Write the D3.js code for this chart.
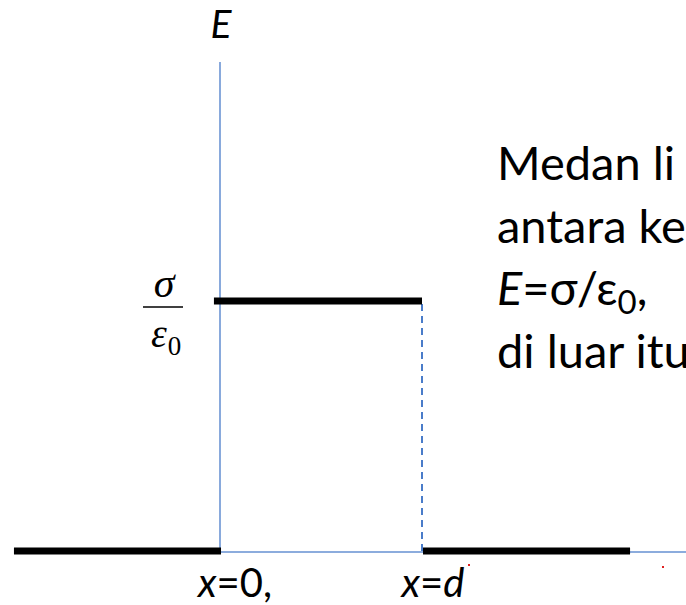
<!DOCTYPE html>
<html>
<head>
<meta charset="utf-8">
<script src="https://cdn.jsdelivr.net/npm/d3@7"></script>
<style>
  html, body { margin: 0; padding: 0; background: #fff; overflow: hidden; }
  svg { display: block; }
</style>
</head>
<body>
<svg id="chart" width="686" height="605"></svg>
<script>
// Field between two charged plates: E = sigma/eps0 for 0 < x < d, zero outside.
// Positions in units of d, field in units of sigma/eps0.
const segmentStart = [-1.02, -0.03, 1.005];
const segmentEnd   = [0.005, 1.0, 2.03];
const fieldValue   = [0, 1, 0];
const xTickValues  = [0, 1];
const xTickLabels  = ["x=0,", "x=d"];
const noteLines    = ["Medan li", "antara ke", "E=σ/ε0,", "di luar itu"];

const svg = d3.select("#chart");
const x = d3.scaleLinear().domain([0, 1]).range([220, 422]);
const y = d3.scaleLinear().domain([0, 1]).range([551, 301]);
const xMax = x.invert(686);
const yMax = y.invert(62);

const blue = "#4a7cc9";

// axes
svg.append("line")
  .attr("x1", x(0)).attr("x2", x(0))
  .attr("y1", y(yMax)).attr("y2", y(0) + 1)
  .attr("stroke", blue).attr("stroke-width", 1.3);
svg.append("line")
  .attr("x1", x(0)).attr("x2", x(xMax))
  .attr("y1", y(0) + 1).attr("y2", y(0) + 1)
  .attr("stroke", blue).attr("stroke-width", 1.6).attr("stroke-opacity", 0.85);

// dashed drop at x = d
svg.append("line")
  .attr("x1", x(1)).attr("x2", x(1))
  .attr("y1", y(1) + 3).attr("y2", y(0) + 1)
  .attr("stroke", blue).attr("stroke-width", 2)
  .attr("stroke-dasharray", "7,5");

// field segments
const segs = fieldValue.map((v, i) => ({ x0: segmentStart[i], x1: segmentEnd[i], v }));
svg.selectAll("line.seg").data(segs).join("line")
  .attr("class", "seg")
  .attr("x1", d => x(d.x0)).attr("x2", d => x(d.x1))
  .attr("y1", d => y(d.v)).attr("y2", d => y(d.v))
  .attr("stroke", "#000").attr("stroke-width", 7);

// axis titles and tick labels
const sans = "Lato, 'Open Sans', sans-serif";
svg.append("text")
  .attr("x", 221).attr("y", 38)
  .attr("text-anchor", "middle")
  .style("font-family", sans).style("font-size", "39px").style("font-style", "italic")
  .text("E");

svg.selectAll("text.xt").data(xTickValues).join("text")
  .attr("class", "xt")
  .attr("x", d => x(d) + (d === 0 ? 15 : 11))
  .attr("y", 597)
  .attr("text-anchor", "middle")
  .style("font-family", sans).style("font-size", "40px")
  .each(function(d, i) {
    const lbl = xTickLabels[i];
    const t = d3.select(this);
    t.append("tspan").style("font-style", "italic").text(lbl[0]);
    t.append("tspan").text(lbl.slice(1, 2));
    const rest = lbl.slice(2);
    if (rest === "d") t.append("tspan").style("font-style", "italic").text(rest);
    else t.append("tspan").text(rest);
  });

// sigma / eps0 label on the vertical axis
const serif = "'Liberation Serif', 'Times New Roman', serif";
svg.append("text")
  .attr("x", 164).attr("y", 297)
  .attr("text-anchor", "middle")
  .style("font-family", serif).style("font-size", "42px").style("font-style", "italic")
  .text("σ");
svg.append("line")
  .attr("x1", 143).attr("x2", 183).attr("y1", 307).attr("y2", 307)
  .attr("stroke", "#000").attr("stroke-width", 1.6);
const eps = svg.append("text")
  .attr("x", 151).attr("y", 347)
  .style("font-family", serif).style("font-size", "40px");
eps.append("tspan").style("font-style", "italic").text("ε");
eps.append("tspan").attr("dx", 1).attr("dy", 8).style("font-size", "27px").text("0");

// explanatory note
const note = svg.append("g").style("font-family", sans).style("font-size", "47px");
note.append("text").attr("x", 497).attr("y", 180).text(noteLines[0]);
note.append("text").attr("x", 497).attr("y", 243).text(noteLines[1]);
const eq = note.append("text").attr("x", 497).attr("y", 305);
eq.append("tspan").style("font-style", "italic").text("E");
eq.append("tspan").text("=σ/ε");
eq.append("tspan").attr("dy", 9).style("font-size", "33px").text("0");
eq.append("tspan").attr("dy", -9).text(",");
note.append("text").attr("x", 497).attr("y", 368).text(noteLines[3]);

// small red marks
svg.append("rect").attr("x", 468).attr("y", 564).attr("width", 2).attr("height", 2).attr("fill", "#e02020");
svg.append("rect").attr("x", 662).attr("y", 566).attr("width", 2).attr("height", 2).attr("fill", "#e02020");
</script>
</body>
</html>
